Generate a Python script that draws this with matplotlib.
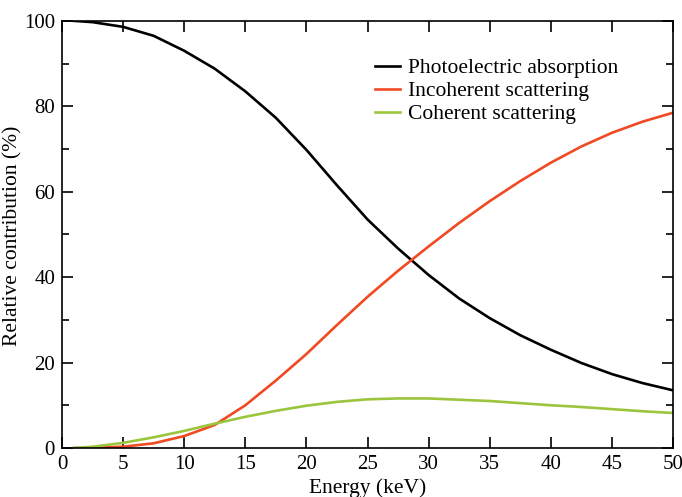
import matplotlib.pyplot as plt
from matplotlib.ticker import MultipleLocator

plt.rcParams['font.family'] = ['Liberation Serif', 'DejaVu Serif']

energy = [1, 2.5, 5, 7.5, 10, 12.5, 15, 17.5, 20, 22.5, 25, 27.5, 30,
          32.5, 35, 37.5, 40, 42.5, 45, 47.5, 50]
photo = [100, 99.7, 98.6, 96.5, 93, 88.8, 83.5, 77.3, 69.8, 61.5, 53.5, 46.7,
         40.5, 35, 30.4, 26.4, 23, 19.9, 17.3, 15.2, 13.5]
incoh = [0, 0.05, 0.3, 1.1, 2.8, 5.4, 10, 15.8, 22, 28.8, 35.4, 41.5, 47.2,
         52.7, 57.8, 62.5, 66.8, 70.6, 73.8, 76.4, 78.5]
coh = [0, 0.3, 1.2, 2.5, 4, 5.7, 7.3, 8.7, 9.9, 10.8, 11.4, 11.6, 11.6,
       11.3, 11, 10.5, 10, 9.6, 9.1, 8.6, 8.2]

fig = plt.figure(figsize=(6.82, 4.97), dpi=100)
ax = fig.add_axes([0.0909, 0.0986, 0.896, 0.8594])

ax.plot(energy, photo, color='black', lw=1.9, label='Photoelectric absorption')
ax.plot(energy, incoh, color='#f04a23', lw=1.9, label='Incoherent scattering')
ax.plot(energy, coh, color='#9bc53d', lw=1.9, label='Coherent scattering')

ax.set_xlim(0, 50)
ax.set_ylim(0, 100)
ax.xaxis.set_major_locator(MultipleLocator(5))
ax.yaxis.set_major_locator(MultipleLocator(20))
ax.yaxis.set_minor_locator(MultipleLocator(10))
ax.tick_params(which='both', direction='in', top=True, right=True,
               labelsize=15, width=1.2)
ax.tick_params(which='major', length=8, pad=5)
ax.tick_params(which='minor', length=5)
for s in ax.spines.values():
    s.set_linewidth(1.2)

ax.set_xlabel('Energy (keV)', fontsize=15.5, labelpad=3)
ax.set_ylabel('Relative contribution (%)', fontsize=15.5)
ax.yaxis.set_label_coords(-0.065, 0.496)

ax.legend(loc='upper left', bbox_to_anchor=(0.512, 0.913), frameon=False,
          fontsize=15.5, handlelength=1.16, handletextpad=0.37,
          labelspacing=0.14, borderpad=0, borderaxespad=0)

fig.savefig('out.png', dpi=100)
